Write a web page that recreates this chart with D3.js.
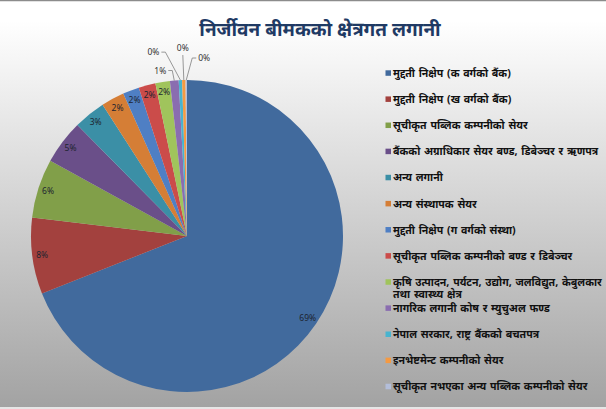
<!DOCTYPE html>
<html><head><meta charset="utf-8">
<script src="https://cdn.jsdelivr.net/npm/d3@7"></script>
<style>html,body{margin:0;padding:0;background:#fff;overflow:hidden}</style>
</head><body>
<svg id="c" width="606" height="409"></svg>
<script>
const title = "निर्जीवन बीमकको क्षेत्रगत लगानी";
const categories = [
  "मुद्दती निक्षेप (क वर्गको बैंक)",
  "मुद्दती निक्षेप (ख वर्गको बैंक)",
  "सूचीकृत पब्लिक कम्पनीको सेयर",
  "बैंकको अग्राधिकार सेयर बण्ड, डिबेञ्चर र ऋणपत्र",
  "अन्य लगानी",
  "अन्य संस्थापक सेयर",
  "मुद्दती निक्षेप (ग वर्गको संस्था)",
  "सूचीकृत पब्लिक कम्पनीको बण्ड र डिबेञ्चर",
  "कृषि उत्पादन, पर्यटन, उद्योग, जलविद्युत, केबुलकार|तथा स्वास्थ्य क्षेत्र",
  "नागरिक लगानी कोष र म्युचुअल फण्ड",
  "नेपाल सरकार, राष्ट्र बैंकको बचतपत्र",
  "इनभेष्टमेन्ट कम्पनीको सेयर",
  "सूचीकृत नभएका अन्य पब्लिक कम्पनीको सेयर"
];
const values = [69.0, 7.9, 6.1, 4.6, 3.3, 2.4, 1.7, 1.75, 1.5, 0.9, 0.35, 0.35, 0.15];
const colors = ["#416A9D","#A3413E","#819F49","#6A4F89","#3B8FA6","#D57E36",
                "#4F7FC4","#CB4C4A","#A0C45C","#8A6DB0","#48B4CF","#F59A42","#B3BEDA"];
// label offsets (px) for the small slices whose labels sit outside the pie
const outsideOffsets = {9:[-8,-10], 10:[-21,-28], 11:[-1,-29], 12:[12,-22]};

const W = 606, H = 409;
const svg = d3.select("#c");
const defs = svg.append("defs");
const g = defs.append("linearGradient").attr("id","bg").attr("x1",0).attr("y1",0).attr("x2",0).attr("y2",1);
g.append("stop").attr("offset","0").attr("stop-color","#ffffff");
g.append("stop").attr("offset","0.05").attr("stop-color","#ffffff");
g.append("stop").attr("offset","1").attr("stop-color","#a2a2a2");
svg.append("rect").attr("width",W).attr("height",H).attr("fill","url(#bg)");
svg.append("line").attr("x1",0).attr("x2",W).attr("y1",0.5).attr("y2",0.5).attr("stroke","#8c8c8c").attr("stroke-width",1.5);
svg.append("rect").attr("x",0).attr("y",H-2).attr("width",W).attr("height",2).attr("fill","#e6e6e6");

const font = "'Noto Sans', 'DejaVu Sans', sans-serif";
svg.append("text").attr("x",320).attr("y",36).attr("text-anchor","middle")
  .attr("font-family",font).attr("font-weight","bold").attr("font-size",19)
  .attr("fill","#1F3A64").text(title);

const cx = 187, cy = 236, r = 156;
const pie = d3.pie().sort(null).value(d=>d);
const arcs = pie(values);
const arc = d3.arc().innerRadius(0).outerRadius(r);
const labelArc = d3.arc().innerRadius(146).outerRadius(146);
const edgeArc = d3.arc().innerRadius(r).outerRadius(r);
const total = d3.sum(values);
const pg = svg.append("g").attr("transform",`translate(${cx},${cy})`);
pg.selectAll("path").data(arcs).enter().append("path")
  .attr("d",arc).attr("fill",(d,i)=>colors[i]);

const fmt = v => Math.round(v/total*100) + "%";
arcs.forEach((d,i)=>{
  if (outsideOffsets[i]) {
    const [ex,ey] = edgeArc.centroid(d);
    const [ox,oy] = outsideOffsets[i];
    const lx = ex+ox, ly = ey+oy;
    let pts;
    if (Math.abs(ox) < 4) pts = [[ex,ey],[lx,ly+4]];
    else if (ox < 0) pts = [[ex,ey],[lx+6,ly],[lx+2,ly]];
    else pts = [[ex,ey],[lx-6,ly],[lx-2,ly]];
    pg.append("polyline").attr("points",pts.map(p=>p.join(",")).join(" "))
      .attr("fill","none").attr("stroke","#7f7f7f").attr("stroke-width",0.8);
    pg.append("text").attr("x", lx).attr("y", ly)
      .attr("text-anchor", ox<-3 ? "end" : (ox>3 ? "start":"middle"))
      .attr("dy", Math.abs(ox)<4 ? "0" : "0.35em")
      .attr("font-family",font).attr("font-size",8.5).attr("fill","#333")
      .text(fmt(values[i]));
  } else {
    const [lx,ly] = labelArc.centroid(d);
    pg.append("text").attr("x",lx).attr("y",ly).attr("dy","0.35em")
      .attr("text-anchor","middle").attr("font-family",font).attr("font-size",8.5)
      .attr("fill","#1d2430").text(fmt(values[i]));
  }
});

const ly0 = 73.3, lstep = 26.12;
const leg = svg.append("g");
categories.forEach((c,i)=>{
  const y = ly0 + i*lstep;
  leg.append("rect").attr("x",385.5).attr("y",y-3).attr("width",5.5).attr("height",5.5).attr("fill",colors[i]);
  const lines = c.split("|");
  lines.forEach((t,k)=>{
    leg.append("text").attr("x",393).attr("y",y+k*12.5).attr("dy","0.35em")
      .attr("font-family",font).attr("font-size",10.6).attr("font-weight","bold")
      .attr("word-spacing","1px").attr("fill","#111").text(t);
  });
});
</script>
</body></html>
